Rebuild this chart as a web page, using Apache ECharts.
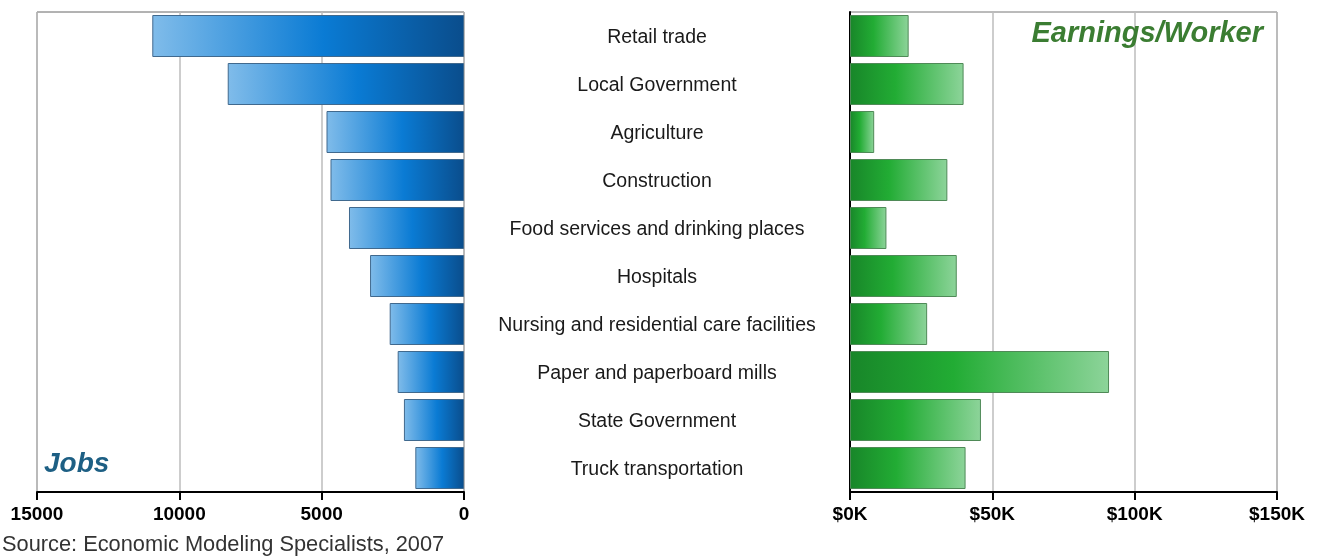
<!DOCTYPE html>
<html>
<head>
<meta charset="utf-8">
<script src="https://cdn.jsdelivr.net/npm/echarts@6/dist/echarts.min.js"></script>
<style>
  html, body { margin: 0; padding: 0; background: #fff; }
  #chart { width: 1321px; height: 556px; }
</style>
</head>
<body>
<div id="chart"></div>
<script>
// Industries, top to bottom
const categories = [
  'Retail trade',
  'Local Government',
  'Agriculture',
  'Construction',
  'Food services and drinking places',
  'Hospitals',
  'Nursing and residential care facilities',
  'Paper and paperboard mills',
  'State Government',
  'Truck transportation'
];
// Number of jobs per industry
const jobs = [10950, 8300, 4830, 4690, 4040, 3300, 2610, 2330, 2110, 1710];
// Average earnings per worker (dollars)
const earnings = [20600, 39900, 8500, 34200, 12800, 37500, 27100, 91000, 46000, 40600];
// Axis ticks
const jobsTicks = [0, 5000, 10000, 15000];
const earningsTicks = [0, 50000, 100000, 150000];

const FONT = '"Liberation Sans", Arial, Helvetica, sans-serif';

const blueGrad = new echarts.graphic.LinearGradient(0, 0, 1, 0, [
  { offset: 0, color: '#80bcea' },
  { offset: 0.55, color: '#0a7bd4' },
  { offset: 1, color: '#0a4d8c' }
]);
const greenGrad = new echarts.graphic.LinearGradient(0, 0, 1, 0, [
  { offset: 0, color: '#188629' },
  { offset: 0.4, color: '#22ac34' },
  { offset: 1, color: '#8dd49a' }
]);

const tickLabel = {
  color: '#000', fontFamily: FONT, fontWeight: 'bold', fontSize: 19, margin: 13
};

const chart = echarts.init(document.getElementById('chart'), null, { renderer: 'canvas' });
chart.setOption({
  animation: false,
  backgroundColor: '#fff',
  title: [
    {
      text: 'Jobs', left: 44, top: 450, padding: 0,
      textStyle: { color: '#1d5f84', fontFamily: FONT, fontSize: 28, fontWeight: 'bold', fontStyle: 'italic' }
    },
    {
      text: 'Earnings/Worker', right: 58, top: 19, padding: 0,
      textStyle: { color: '#3b7d32', fontFamily: FONT, fontSize: 29, fontWeight: 'bold', fontStyle: 'italic' }
    },
    {
      text: 'Source: Economic Modeling Specialists, 2007', left: 2, top: 534, padding: 0,
      textStyle: { color: '#333', fontFamily: FONT, fontSize: 21.8, fontWeight: 'normal' }
    }
  ],
  grid: [
    // jobs panel
    { left: 37, right: 857, top: 12, bottom: 64, show: true, borderColor: '#666', borderWidth: 1, backgroundColor: 'transparent' },
    // earnings panel
    { left: 850, right: 44, top: 12, bottom: 64, show: true, borderColor: '#777', borderWidth: 1, backgroundColor: 'transparent' },
    // centre column holding the industry names
    { left: 464, right: 857, top: 14, bottom: 62, show: false }
  ],
  xAxis: [
    {
      gridIndex: 0, type: 'value', inverse: true,
      min: jobsTicks[0], max: jobsTicks[jobsTicks.length - 1], interval: jobsTicks[1] - jobsTicks[0],
      axisLine: { show: true, lineStyle: { color: '#000', width: 2 } },
      axisTick: { show: true, inside: false, length: 8, lineStyle: { color: '#000', width: 2 } },
      axisLabel: Object.assign({ formatter: v => String(v) }, tickLabel),
      splitLine: { show: true, lineStyle: { color: '#bdbdbd', width: 1.5 } }
    },
    {
      gridIndex: 1, type: 'value',
      min: earningsTicks[0], max: earningsTicks[earningsTicks.length - 1], interval: earningsTicks[1] - earningsTicks[0],
      axisLine: { show: true, lineStyle: { color: '#000', width: 2 } },
      axisTick: { show: true, inside: false, length: 8, lineStyle: { color: '#000', width: 2 } },
      axisLabel: Object.assign({ formatter: v => '$' + (v / 1000) + 'K' }, tickLabel),
      splitLine: { show: true, lineStyle: { color: '#bdbdbd', width: 1.5 } }
    },
    {
      gridIndex: 2, type: 'value', show: false
    }
  ],
  yAxis: [
    {
      gridIndex: 0, type: 'category', data: categories, inverse: true, position: 'right',
      axisLine: { show: false }, axisTick: { show: false }, splitLine: { show: false },
      axisLabel: { show: false }
    },
    {
      gridIndex: 1, type: 'category', data: categories, inverse: true, position: 'left',
      axisLine: { show: true, lineStyle: { color: '#000', width: 2 } },
      axisTick: { show: false }, axisLabel: { show: false }, splitLine: { show: false }
    },
    {
      gridIndex: 2, type: 'category', data: categories, inverse: true, position: 'right',
      axisLine: { show: false }, axisTick: { show: false }, splitLine: { show: false },
      axisLabel: {
        show: true, align: 'center', margin: 193,
        color: '#1a1a1a', fontFamily: FONT, fontSize: 19.5
      }
    }
  ],
  series: [
    {
      type: 'bar', xAxisIndex: 0, yAxisIndex: 0, data: jobs,
      barCategoryGap: '12.5%',
      itemStyle: { color: blueGrad, borderColor: '#40698e', borderWidth: 1 }
    },
    {
      type: 'bar', xAxisIndex: 1, yAxisIndex: 1, data: earnings,
      barCategoryGap: '12.5%',
      itemStyle: { color: greenGrad, borderColor: '#4f8a57', borderWidth: 1 }
    }
  ]
});
</script>
</body>
</html>
